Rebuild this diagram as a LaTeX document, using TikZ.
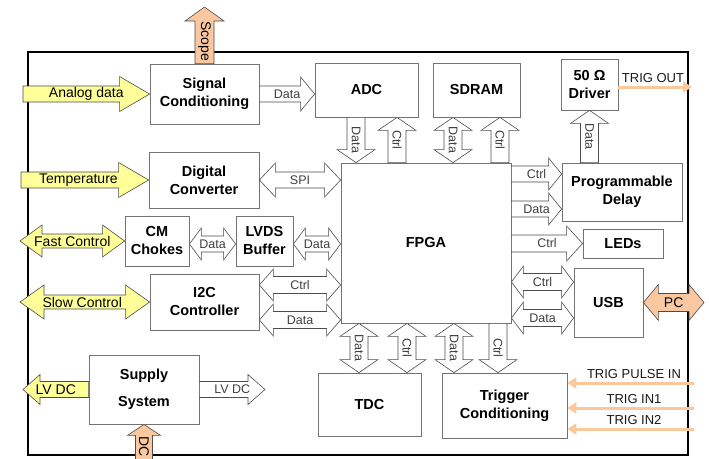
\documentclass[tikz,border=0pt]{standalone}
\usepackage{fontspec}
\setmainfont{Liberation Sans}
\usetikzlibrary{calc,arrows.meta}

\definecolor{padyellow}{RGB}{255,255,153}
\definecolor{peach}{RGB}{250,200,160}
\definecolor{trigline}{RGB}{250,200,155}

\tikzset{
  shaft half/.store in=\shafthalf, head half/.store in=\headhalf,
  tip len/.store in=\tiplen, label pos/.store in=\labpos, label turn/.store in=\labturn,
  shaft half=8, head half=17, tip len=14, label pos=0.5, label turn=0,
  box/.style={draw=black!55, line width=0.8pt, fill=white, align=center, inner sep=1pt,
    font=\fontsize{14.5}{18}\selectfont\bfseries},
  blockarrow/.style={draw=black!70, line width=0.6pt, fill=white},
  arrowtext/.style={font=\fontsize{12.5}{14}\selectfont, text=black!75},
  padtext/.style={font=\fontsize{14}{16}\selectfont, text=black},
  arrow label/.style={arrowtext},
  vert/.style={shaft half=9, head half=19, tip len=13, label turn=-90},
  pad/.style={fill=padyellow, arrow label/.style={padtext}},
  feed/.style={fill=peach, arrow label/.style={padtext}},
  trig/.style={draw=trigline, line width=3pt, -{Triangle[length=9pt,width=11pt]}},
  trigtext/.style={font=\fontsize{13}{15}\selectfont, text=black!90},
}

% block arrow with one head: [options]{from}{to}{text}
\newcommand{\onearrow}[4][]{%
  \draw[blockarrow,#1] let \p1=(#2), \p2=(#3),
    \n1={scalar(atan2(\y2-\y1,\x2-\x1))}, \n2={scalar(veclen(\x2-\x1,\y2-\y1))}, \n3={\n2-\tiplen}
    in [shift={(\p1)}, rotate=\n1]
    (0pt,\shafthalf pt) -- (\n{3}pt,\shafthalf pt) -- (\n{3}pt,\headhalf pt) -- (\n{2}pt,0pt)
    -- (\n{3}pt,-\headhalf pt) -- (\n{3}pt,-\shafthalf pt) -- (0pt,-\shafthalf pt) -- cycle
    node[arrow label, rotate=\labturn] at (\labpos*\n{2}pt,0pt) {#4};}

% block arrow with two heads
\newcommand{\twoarrow}[4][]{%
  \draw[blockarrow,#1] let \p1=(#2), \p2=(#3),
    \n1={scalar(atan2(\y2-\y1,\x2-\x1))}, \n2={scalar(veclen(\x2-\x1,\y2-\y1))}, \n3={\n2-\tiplen}
    in [shift={(\p1)}, rotate=\n1]
    (0pt,0pt) -- (\tiplen pt,\headhalf pt) -- (\tiplen pt,\shafthalf pt)
    -- (\n{3}pt,\shafthalf pt) -- (\n{3}pt,\headhalf pt) -- (\n{2}pt,0pt)
    -- (\n{3}pt,-\headhalf pt) -- (\n{3}pt,-\shafthalf pt)
    -- (\tiplen pt,-\shafthalf pt) -- (\tiplen pt,-\headhalf pt) -- cycle
    node[arrow label, rotate=\labturn] at (\labpos*\n{2}pt,0pt) {#4};}

\begin{document}
\begin{tikzpicture}[x=1pt,y=-1pt]
\useasboundingbox (0,0) rectangle (709,458);
\draw[line width=2.5pt] (28,52) rectangle (688,455);

% blocks
\node[box, minimum width=109pt, minimum height=60pt] (sig) at (204.5,94) {Signal\\Conditioning};
\node[box, minimum width=103pt, minimum height=54pt] (adc) at (366.5,90) {ADC};
\node[box, minimum width=87pt, minimum height=54pt] (sdram) at (476.5,90) {SDRAM};
\node[box, minimum width=57pt, minimum height=51pt] (drv) at (589.5,84.5) {50 Ω\\Driver};
\node[box, minimum width=110pt, minimum height=56pt] (dig) at (204,180) {Digital\\Converter};
\node[box, minimum width=170pt, minimum height=160pt] (fpga) at (426,243) {FPGA};
\node[box, minimum width=120pt, minimum height=58pt] (delay) at (622,192) {Programmable\\Delay};
\node[box, minimum width=64pt, minimum height=50pt] (cm) at (157,241) {CM\\Chokes};
\node[box, minimum width=57pt, minimum height=50pt] (lvds) at (264.5,241) {LVDS\\Buffer};
\node[box, minimum width=80pt, minimum height=29pt] (leds) at (623,243.5) {LEDs};
\node[box, minimum width=109pt, minimum height=56pt] (i2c) at (204.5,302) {I2C\\Controller};
\node[box, minimum width=69pt, minimum height=69pt] (usb) at (608.5,302.5) {USB};
\node[box, minimum width=110pt, minimum height=69pt] (supply) at (144,389.5) {Supply\\[9pt]System};
\node[box, minimum width=103pt, minimum height=63pt] (tdc) at (369.5,404.5) {TDC};
\node[box, minimum width=125pt, minimum height=65pt] (trig) at (504.5,405.5) {Trigger\\Conditioning};

% outside connections
\onearrow[feed, vert, shaft half=9.5, head half=19.5, tip len=14, label pos=0.4]{sig.north}{sig.north |- 0,7}{Scope}
\onearrow[pad, tip len=30, head half=17.5]{sig.west -| 23,0}{sig.west}{Analog data}
\onearrow[pad, tip len=30, head half=17.5, label pos=0.45]{dig.west -| 21,0}{dig.west}{Temperature}
\twoarrow[pad, tip len=22, head half=16, shaft half=7]{cm.west -| 20,0}{cm.west}{Fast Control}
\twoarrow[pad, tip len=24, head half=17, shaft half=7, label pos=0.48]{i2c.west -| 20,0}{i2c.west}{Slow Control}
\onearrow[pad, tip len=17, head half=15]{supply.west}{supply.west -| 23,0}{LV DC}
\onearrow[tip len=17, head half=15]{supply.east}{supply.east -| 265,0}{LV DC}
\onearrow[feed, vert, shaft half=8.5, head half=16.5, tip len=11, label pos=0.56]{supply.south |- 0,475}{supply.south}{DC}
\twoarrow[feed, shaft half=9, head half=18, tip len=15]{usb.east}{usb.east -| 704,0}{PC}

% links to the FPGA
\onearrow{sig.east}{sig.east -| adc.west}{Data}
\twoarrow[tip len=16]{dig.east}{dig.east -| fpga.west}{SPI}
\twoarrow[tip len=12, head half=16, shaft half=8]{cm.east |- 0,244}{lvds.west |- 0,244}{Data}
\twoarrow[tip len=12, head half=16, shaft half=8]{lvds.east |- 0,244}{fpga.west |- 0,244}{Data}
\twoarrow[shaft half=8.5, head half=16]{i2c.east |- 0,285}{fpga.west |- 0,285}{Ctrl}
\twoarrow[shaft half=8.5, head half=16]{i2c.east |- 0,320}{fpga.west |- 0,320}{Data}
\onearrow[vert]{356,0 |- adc.south}{356,0 |- fpga.north}{Data}
\onearrow[vert]{397,0 |- fpga.north}{397,0 |- adc.south}{Ctrl}
\twoarrow[vert]{453,0 |- sdram.south}{453,0 |- fpga.north}{Data}
\onearrow[vert]{500,0 |- fpga.north}{500,0 |- sdram.south}{Ctrl}
\onearrow[vert]{drv.south |- delay.north}{drv.south}{Data}
\onearrow[tip len=13, head half=16]{fpga.east |- 0,174}{delay.west |- 0,174}{Ctrl}
\onearrow[tip len=13, head half=16]{fpga.east |- 0,209}{delay.west |- 0,209}{Data}
\onearrow[tip len=16, head half=17.5, shaft half=8.5]{fpga.east |- leds.west}{leds.west}{Ctrl}
\twoarrow[shaft half=8.5, head half=16, tip len=12]{fpga.east |- 0,282}{usb.west |- 0,282}{Ctrl}
\twoarrow[shaft half=8.5, head half=16, tip len=12]{fpga.east |- 0,318}{usb.west |- 0,318}{Data}
\twoarrow[vert]{359,0 |- fpga.south}{359,0 |- tdc.north}{Data}
\twoarrow[vert]{407,0 |- fpga.south}{407,0 |- tdc.north}{Ctrl}
\twoarrow[vert]{454,0 |- fpga.south}{454,0 |- trig.north}{Data}
\onearrow[vert]{498,0 |- fpga.south}{498,0 |- trig.north}{Ctrl}

% trigger lines
\coordinate (trigout) at (692,87);
\draw[trig] (drv.east |- trigout) -- (trigout);
\node[trigtext] (lbltrigout) at (653,78) {TRIG OUT};
\foreach \ypos/\name/\txt in {383/tpulse/TRIG PULSE IN, 408/tinone/TRIG IN1, 429/tintwo/TRIG IN2}{
  \coordinate (\name) at (694,\ypos);
  \draw[trig] (\name) -- (\name -| trig.east);
  \node[trigtext] at ($(\name)+(-60,-9)$) {\txt};
}
\end{tikzpicture}
\end{document}
